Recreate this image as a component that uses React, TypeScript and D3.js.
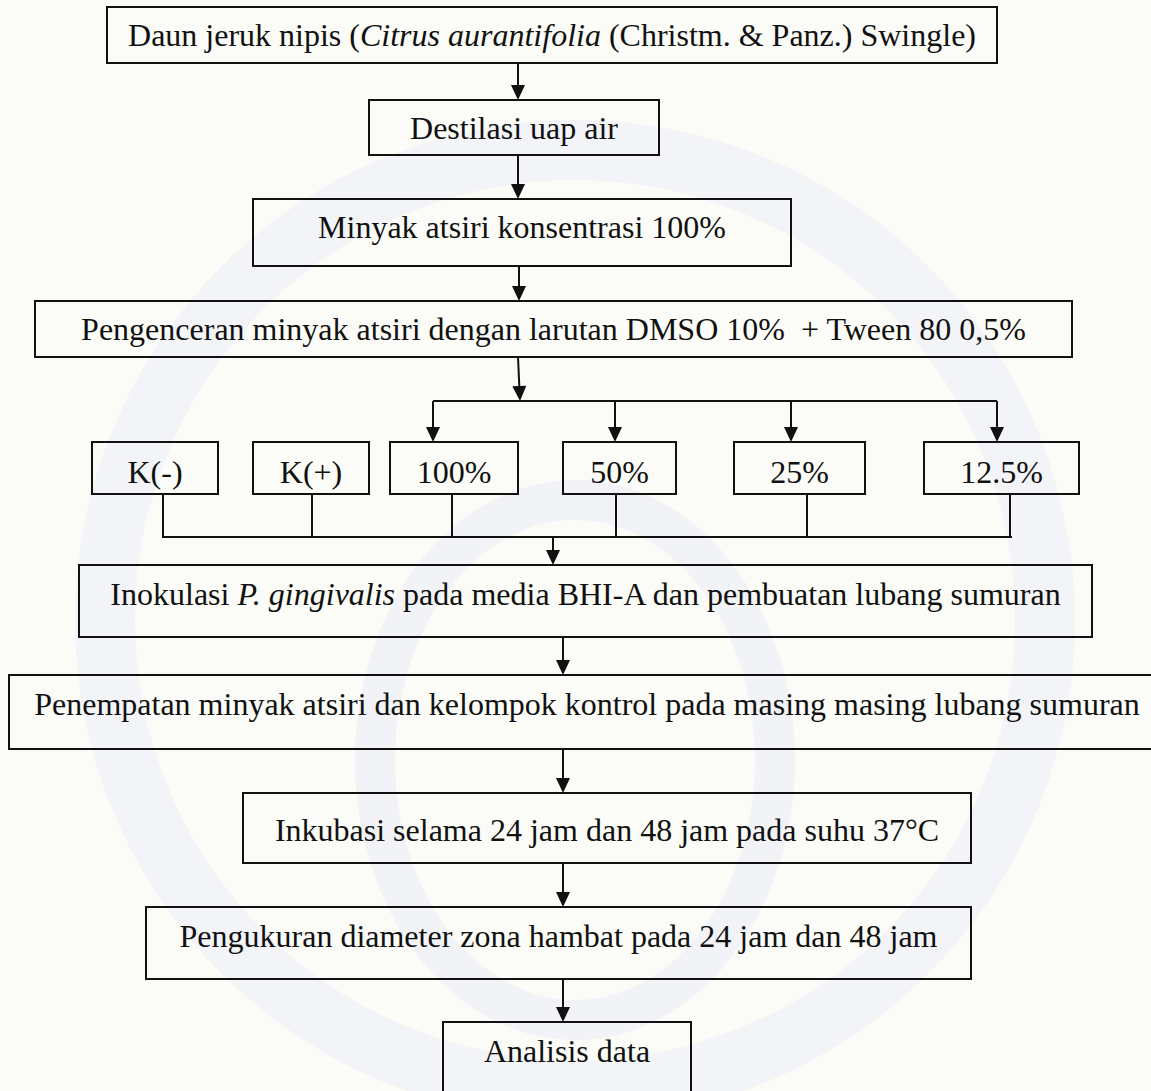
import { useEffect, useRef } from 'react';
import * as d3 from 'd3';

type Seg = { t: string; i?: boolean };

// flow steps (top part, then bottom part)
const topSteps: Seg[][] = [
  [{ t: 'Daun jeruk nipis (' }, { t: 'Citrus aurantifolia', i: true }, { t: ' (Christm. & Panz.) Swingle)' }],
  [{ t: 'Destilasi uap air' }],
  [{ t: 'Minyak atsiri konsentrasi 100%' }],
  [{ t: 'Pengenceran minyak atsiri dengan larutan DMSO 10%  + Tween 80 0,5%' }],
];

const groups = ['K(-)', 'K(+)', '100%', '50%', '25%', '12.5%'];
const dilutedGroups = ['100%', '50%', '25%', '12.5%'];

const bottomSteps: Seg[][] = [
  [{ t: 'Inokulasi ' }, { t: 'P. gingivalis', i: true }, { t: ' pada media BHI-A dan pembuatan lubang sumuran' }],
  [{ t: 'Penempatan minyak atsiri dan kelompok kontrol pada masing masing lubang sumuran' }],
  [{ t: 'Inkubasi selama 24 jam dan 48 jam pada suhu 37°C' }],
  [{ t: 'Pengukuran diameter zona hambat pada 24 jam dan 48 jam' }],
  [{ t: 'Analisis data' }],
];

// layout (pixels)
const topBoxes = [
  { x0: 107, x1: 997, y0: 7, y1: 63, base: 46 },
  { x0: 369, x1: 659, y0: 100, y1: 155, base: 139 },
  { x0: 253, x1: 791, y0: 199, y1: 266, base: 238 },
  { x0: 35, x1: 1072, y0: 301, y1: 357, base: 340 },
];
const groupBoxes = [
  { x0: 92, x1: 218, stub: 163 },
  { x0: 253, x1: 369, stub: 312 },
  { x0: 390, x1: 518, stub: 452 },
  { x0: 563, x1: 676, stub: 616 },
  { x0: 734, x1: 865, stub: 807 },
  { x0: 924, x1: 1079, stub: 1010 },
];
const dilutedArrowX = [433, 615, 791, 997];
const bottomBoxes = [
  { x0: 79, x1: 1092, y0: 565, y1: 637, base: 605 },
  { x0: 9, x1: 1165, y0: 675, y1: 749, base: 715 },
  { x0: 243, x1: 971, y0: 793, y1: 863, base: 841 },
  { x0: 146, x1: 971, y0: 907, y1: 979, base: 947 },
  { x0: 443, x1: 691, y0: 1022, y1: 1110, base: 1062 },
];

const W = 1151;
const H = 1091;
const FONT = '"Liberation Serif", "Times New Roman", serif';
const INK = '#111';

export default function App() {
  const svgRef = useRef<SVGSVGElement>(null);

  useEffect(() => {
    document.body.style.margin = '0';
    if (!svgRef.current) return;
    const svg = d3.select(svgRef.current);
    svg.selectAll('*').remove();

    svg.append('rect').attr('width', W).attr('height', H).attr('fill', '#fbfbf7');

    // very faint watermark shapes behind the chart
    const wm = svg.append('g').attr('fill', 'none').attr('stroke', '#f1f3f7');
    wm.append('ellipse').attr('cx', 575).attr('cy', 760).attr('rx', 200).attr('ry', 260)
      .attr('stroke-width', 40);
    wm.append('circle').attr('cx', 575).attr('cy', 620).attr('r', 470)
      .attr('stroke-width', 60).attr('stroke', '#f3f4f8');

    const g = svg.append('g');

    const line = (x1: number, y1: number, x2: number, y2: number) =>
      g.append('line')
        .attr('x1', x1).attr('y1', y1).attr('x2', x2).attr('y2', y2)
        .attr('stroke', INK).attr('stroke-width', 2);

    const arrow = (x1: number, y1: number, x2: number, y2: number) => {
      const ang = Math.atan2(y2 - y1, x2 - x1);
      const len = 15, half = 7;
      const bx = x2 - len * Math.cos(ang), by = y2 - len * Math.sin(ang);
      line(x1, y1, bx, by);
      const p = d3.path();
      p.moveTo(x2, y2);
      p.lineTo(bx + half * Math.sin(ang), by - half * Math.cos(ang));
      p.lineTo(bx - half * Math.sin(ang), by + half * Math.cos(ang));
      p.closePath();
      g.append('path').attr('d', p.toString()).attr('fill', INK);
    };

    const box = (b: { x0: number; x1: number; y0: number; y1: number; base: number }, segs: Seg[]) => {
      g.append('rect')
        .attr('x', b.x0).attr('y', b.y0)
        .attr('width', b.x1 - b.x0).attr('height', b.y1 - b.y0)
        .attr('fill', 'none').attr('stroke', INK).attr('stroke-width', 2);
      const t = g.append('text')
        .attr('x', (b.x0 + b.x1) / 2).attr('y', b.base)
        .attr('text-anchor', 'middle')
        .attr('font-family', FONT).attr('font-size', 32).attr('fill', INK)
        .style('white-space', 'pre');
      segs.forEach((s) => {
        t.append('tspan').attr('font-style', s.i ? 'italic' : 'normal').text(s.t);
      });
    };

    topSteps.forEach((s, k) => box(topBoxes[k], s));
    bottomSteps.forEach((s, k) => box(bottomBoxes[k], s));

    // arrows between top boxes
    const topArrowX = [518, 518, 519];
    topArrowX.forEach((x, k) => arrow(x, topBoxes[k].y1, x, topBoxes[k + 1].y0));

    // split into dilution groups
    const barY = 401;
    arrow(518, topBoxes[3].y1, 520, barY);
    const bx = d3.extent(dilutedArrowX) as [number, number];
    line(bx[0], barY, bx[1], barY);

    const gy0 = 442, gy1 = 494, gBase = 483;
    groups.forEach((name, k) => {
      const b = groupBoxes[k];
      box({ x0: b.x0, x1: b.x1, y0: gy0, y1: gy1, base: gBase }, [{ t: name }]);
    });
    dilutedGroups.forEach((_, k) => arrow(dilutedArrowX[k], barY, dilutedArrowX[k], gy0));

    // merge back
    const mergeY = 537;
    groupBoxes.forEach((b) => line(b.stub, gy1, b.stub, mergeY));
    line(groupBoxes[0].stub - 1, mergeY, groupBoxes[groupBoxes.length - 1].stub + 2, mergeY);
    arrow(553, mergeY, 553, bottomBoxes[0].y0);

    for (let k = 0; k < bottomBoxes.length - 1; k++) {
      arrow(563, bottomBoxes[k].y1, 563, bottomBoxes[k + 1].y0);
    }
  }, []);

  return <svg ref={svgRef} width={W} height={H} style={{ display: 'block' }} />;
}
